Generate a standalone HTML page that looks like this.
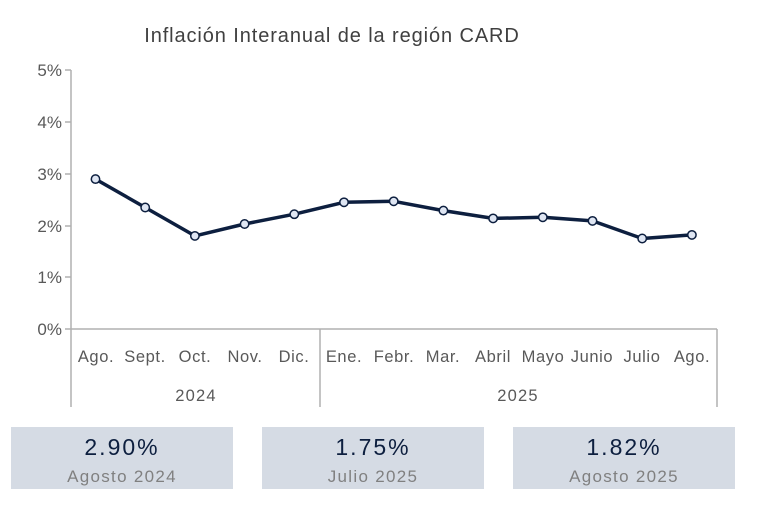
<!DOCTYPE html>
<html><head><meta charset="utf-8"><style>
body{margin:0;background:#fff;}
svg text{font-family:"Liberation Sans",sans-serif;}
</style></head><body>
<svg width="768" height="525" viewBox="0 0 768 525" xmlns="http://www.w3.org/2000/svg">
<rect width="768" height="525" fill="#fff"/>
<text x="332" y="42" font-size="20" fill="#404040" text-anchor="middle" letter-spacing="0.9">Inflación Interanual de la región CARD</text>
<g stroke="#b0b0b0" stroke-width="1.5" fill="none">
<line x1="71" y1="70" x2="71" y2="407"/>
<line x1="65" y1="70" x2="71" y2="70"/>
<line x1="65" y1="122" x2="71" y2="122"/>
<line x1="65" y1="174" x2="71" y2="174"/>
<line x1="65" y1="226" x2="71" y2="226"/>
<line x1="65" y1="277" x2="71" y2="277"/>
<line x1="65" y1="329" x2="717" y2="329"/>
<line x1="320" y1="329" x2="320" y2="407"/>
<line x1="717" y1="329" x2="717" y2="407"/>
</g>
<g font-size="17" fill="#595959" text-anchor="end">
<text x="62" y="76">5%</text><text x="62" y="128">4%</text><text x="62" y="180">3%</text>
<text x="62" y="232">2%</text><text x="62" y="283">1%</text><text x="62" y="335">0%</text>
</g>
<g font-size="16.5" fill="#595959" text-anchor="middle" letter-spacing="0.6">
<text x="96" y="362">Ago.</text><text x="145" y="362">Sept.</text><text x="195" y="362">Oct.</text>
<text x="245" y="362">Nov.</text><text x="294" y="362">Dic.</text><text x="344" y="362">Ene.</text>
<text x="394" y="362">Febr.</text><text x="443" y="362">Mar.</text><text x="493" y="362">Abril</text>
<text x="543" y="362">Mayo</text><text x="592" y="362">Junio</text><text x="642" y="362">Julio</text>
<text x="692" y="362">Ago.</text>
<text x="196" y="401" letter-spacing="1.2">2024</text><text x="518" y="401" letter-spacing="1.2">2025</text>
</g>
<polyline fill="none" stroke="#0d1f3f" stroke-width="3.5" stroke-linejoin="round"
points="95.5,179.1 145.2,207.5 194.9,235.9 244.6,224 294.3,214.2 344,202.3 393.7,201.3 443.4,210.6 493.1,218.4 542.8,217.3 592.5,220.9 642.2,238.5 691.9,234.9"/>
<g fill="#dfe6f3" stroke="#0d1f3f" stroke-width="1.5">
<circle cx="95.5" cy="179.1" r="4.2"/><circle cx="145.2" cy="207.5" r="4.2"/><circle cx="194.9" cy="235.9" r="4.2"/>
<circle cx="244.6" cy="224" r="4.2"/><circle cx="294.3" cy="214.2" r="4.2"/><circle cx="344" cy="202.3" r="4.2"/>
<circle cx="393.7" cy="201.3" r="4.2"/><circle cx="443.4" cy="210.6" r="4.2"/><circle cx="493.1" cy="218.4" r="4.2"/>
<circle cx="542.8" cy="217.3" r="4.2"/><circle cx="592.5" cy="220.9" r="4.2"/><circle cx="642.2" cy="238.5" r="4.2"/>
<circle cx="691.9" cy="234.9" r="4.2"/>
</g>
<g fill="#d5dbe4">
<rect x="11" y="427" width="222" height="62"/>
<rect x="262" y="427" width="222" height="62"/>
<rect x="513" y="427" width="222" height="62"/>
</g>
<g text-anchor="middle">
<text x="122" y="455" font-size="23" fill="#0d1f3f" letter-spacing="2">2.90%</text>
<text x="122" y="482" font-size="17" fill="#808080" letter-spacing="1.3">Agosto 2024</text>
<text x="373" y="455" font-size="23" fill="#0d1f3f" letter-spacing="2">1.75%</text>
<text x="373" y="482" font-size="17" fill="#808080" letter-spacing="1.3">Julio 2025</text>
<text x="624" y="455" font-size="23" fill="#0d1f3f" letter-spacing="2">1.82%</text>
<text x="624" y="482" font-size="17" fill="#808080" letter-spacing="1.3">Agosto 2025</text>
</g>
</svg>
</body></html>
